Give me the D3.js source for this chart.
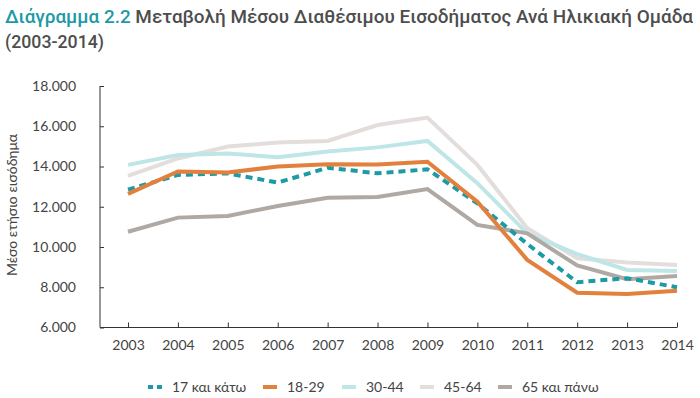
<!DOCTYPE html>
<html><head><meta charset="utf-8">
<script src="https://cdn.jsdelivr.net/npm/d3@7"></script>
<style>body{margin:0;background:#fff}svg{display:block}</style>
</head><body><svg id="c" width="700" height="398"></svg>
<script>
const years = [2003,2004,2005,2006,2007,2008,2009,2010,2011,2012,2013,2014];
const seriesNames = ["17 και κάτω","18-29","30-44","45-64","65 και πάνω"];
const s17 = [12850,13580,13660,13200,13940,13660,13860,12170,10150,8250,8450,8000];
const s18 = [12640,13750,13700,14000,14110,14100,14240,12250,9360,7730,7670,7830];
const s30 = [14080,14570,14650,14460,14740,14950,15270,13170,10680,9650,8860,8810];
const s45 = [13530,14400,14990,15190,15270,16060,16430,14080,10930,9440,9230,9110];
const s65 = [10760,11460,11540,12040,12450,12490,12880,11100,10680,9080,8400,8560];
const yTicks = [6000,8000,10000,12000,14000,16000,18000];
const seriesValues = [s17,s18,s30,s45,s65];
const colors = ["#1c9aa5","#e2803e","#bfe6e7","#e3dedc","#afa8a3"];
const dashes = ["7,5",null,null,null,null];
const drawOrder = [3,2,4,0,1];

const svg = d3.select("#c");
const font = "Lato, 'Open Sans', sans-serif";
const x = d3.scalePoint().domain(years).range([128,677]);
const y = d3.scaleLinear().domain([6000,18000]).range([327.5,86]);

// title
const t = svg.append("text").attr("x",5).attr("y",23).attr("font-family","Roboto, sans-serif")
  .attr("font-size",18.5).attr("font-weight",500).attr("fill","#4d4d4d")
  .attr("textLength",688).attr("lengthAdjust","spacingAndGlyphs");
t.append("tspan").attr("fill","#1c9aa5").text("Διάγραμμα 2.2");
t.append("tspan").text(" Μεταβολή Μέσου Διαθέσιμου Εισοδήματος Ανά Ηλικιακή Ομάδα");
svg.append("text").attr("x",5).attr("y",48).attr("font-family","Roboto, sans-serif")
  .attr("font-size",18.5).attr("font-weight",500).attr("fill","#4d4d4d")
  .attr("textLength",99).attr("lengthAdjust","spacingAndGlyphs").text("(2003-2014)");

// y axis
const yAxis = d3.axisLeft(y).tickValues(yTicks).tickSize(-4).tickPadding(24)
  .tickFormat(d => d3.format(",")(d).replace(/,/g,"."));
const gy = svg.append("g").attr("transform","translate(100,0)").call(yAxis);
gy.select(".domain").attr("stroke","#333").attr("d","M0,86V327.5");
gy.selectAll(".tick line").attr("stroke","#333");
gy.selectAll("text").attr("font-family",font).attr("font-size",14).attr("fill","#444");

// x axis
const xAxis = d3.axisBottom(x).tickSize(-5).tickPadding(13);
const gx = svg.append("g").attr("transform","translate(0,327.5)").call(xAxis);
gx.select(".domain").attr("stroke","#333").attr("d","M100,0H677");
gx.selectAll(".tick line").attr("stroke","#333");
gx.selectAll("text").attr("font-family",font).attr("font-size",14).attr("fill","#444");

// y title
svg.append("text").attr("transform","translate(17,205) rotate(-90)").attr("text-anchor","middle")
  .attr("font-family",font).attr("font-size",14).attr("fill","#444").text("Μέσο ετήσιο εισόδημα");

// lines
const line = d3.line().x((d,i)=>x(years[i])).y(d=>y(d));
drawOrder.forEach(k=>{
  svg.append("path").datum(seriesValues[k]).attr("d",line).attr("fill","none")
    .attr("stroke",colors[k]).attr("stroke-width",4)
    .attr("stroke-dasharray",dashes[k]);
});

// legend
const legX = [148,263,342,420,498];
const lg = svg.append("g");
seriesNames.forEach((n,k)=>{
  lg.append("line").attr("x1",legX[k]).attr("x2",legX[k]+14).attr("y1",387).attr("y2",387)
    .attr("stroke",colors[k]).attr("stroke-width",4).attr("stroke-dasharray",k===0?"5,4":null);
  lg.append("text").attr("x",legX[k]+24).attr("y",392).attr("font-family",font)
    .attr("font-size",14).attr("fill","#444").text(n);
});
</script></body></html>
